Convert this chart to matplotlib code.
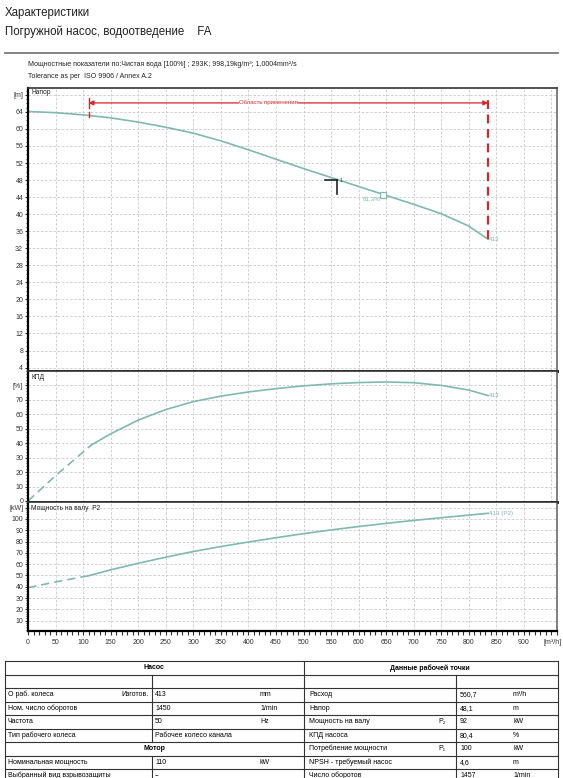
import matplotlib
matplotlib.use('Agg')
import matplotlib.pyplot as plt
from matplotlib.lines import Line2D
from matplotlib.ticker import MultipleLocator

plt.rcParams['font.family'] = ['Liberation Sans', 'DejaVu Sans']

# ---------------- data ----------------
q_head = [0, 50, 100, 150, 200, 250, 300, 350, 400, 450, 500, 550, 600, 650, 700, 750, 800, 835]
head = [64.1, 63.8, 63.3, 62.6, 61.6, 60.4, 59.0, 57.2, 55.1, 52.9, 50.7, 48.6, 46.5, 44.4, 42.3, 40.1, 37.2, 34.1]

q_eff_dash = [0, 50, 115]
eff_dash = [0, 17.5, 38.8]
q_eff = [115, 150, 200, 250, 300, 350, 400, 450, 500, 550, 600, 650, 700, 750, 800, 835]
eff = [38.8, 46.5, 56, 63.3, 68.8, 72.6, 75.5, 77.8, 79.7, 81.1, 82.0, 82.4, 81.9, 80.0, 76.8, 73]

q_pow_dash = [0, 50, 110]
pow_dash = [39.2, 44.3, 49.8]
q_pow = [110, 150, 200, 250, 300, 350, 400, 450, 500, 550, 600, 650, 700, 750, 800, 835]
pow_p2 = [49.8, 55, 60.8, 66.2, 71.2, 75.6, 79.6, 83.4, 87, 90.3, 93.3, 96.1, 98.7, 101.1, 103.4, 105]

x_ticks = list(range(0, 901, 50))
head_ticks = list(range(4, 65, 4))
eff_ticks = list(range(0, 71, 10))
pow_ticks = list(range(10, 101, 10))

range_q = [110, 835]
range_level = 66.1
op_q, op_h = 560.7, 48.1
bep_q, bep_h, bep_label = 645, 44.5, '81,3%'
curve_name = '413'

header_left = 'Насос'
header_motor = 'Мотор'
header_right = 'Данные рабочей точки'
left_rows = [
    ['О раб. колеса', 'Изготов.', '413', 'mm'],
    ['Ном. число оборотов', '', '1450', '1/min'],
    ['Частота', '', '50', 'Hz'],
    ['Тип рабочего колеса', '', 'Рабочее колесо канала', ''],
    None,
    ['Номинальная мощность', '', '110', 'kW'],
    ['Выбранный вид взрывозащиты', '', '--', ''],
]
right_rows = [
    ['Расход', '', '560,7', 'm³/h'],
    ['Напор', '', '48,1', 'm'],
    ['Мощность на валу', 'P₂', '92', 'kW'],
    ['КПД насоса', '', '80,4', '%'],
    ['Потребление мощности', 'P₁', '100', 'kW'],
    ['NPSH - требуемый насос', '', '4,6', 'm'],
    ['Число оборотов', '', '1457', '1/min'],
]

# ---------------- figure ----------------
W, H = 563, 778
fig = plt.figure(figsize=(W / 100, H / 100), dpi=100)


def fx(px):
    return px / W


def fy(py):
    return 1 - py / H


TEAL = '#7fb9b0'
RED = '#d8262c'
GRID = '#c9c9c9'
L, R = 28, 557


def add_ax(top, bot):
    return fig.add_axes([fx(L), fy(bot), (R - L) / W, (bot - top) / H])


ax1 = add_ax(88, 371)
ax2 = add_ax(371, 502)
ax3 = add_ax(502, 631)

for ax in (ax1, ax2, ax3):
    ax.set_xlim(0, 960)
    ax.xaxis.set_major_locator(MultipleLocator(50))
    ax.xaxis.set_minor_locator(MultipleLocator(10))
    ax.grid(True, which='major', color=GRID, ls=(0, (3, 2)), lw=0.6)
    ax.set_axisbelow(True)
    ax.spines['left'].set_color('black')
    ax.spines['left'].set_linewidth(1.6)
    ax.spines['right'].set_color('#6a6a6a')
    ax.spines['right'].set_linewidth(1.2)
    ax.spines['top'].set_color('#333333')
    ax.spines['top'].set_linewidth(1.2)
    ax.spines['bottom'].set_color('black')
    ax.spines['bottom'].set_linewidth(2.0)
    ax.tick_params(axis='y', which='major', labelsize=5, length=2.5, width=0.8, pad=1, colors='#333333')
    ax.tick_params(axis='y', which='minor', length=1.5, width=0.6, colors='#333333')

for ax in (ax1, ax2):
    ax.tick_params(axis='x', which='both', bottom=False, labelbottom=False)

# head
ax1.set_ylim(3.2, 69.6)
ax1.set_yticks(head_ticks + [68])
ax1.set_yticklabels([str(t) for t in head_ticks] + ['[m]'])
ax1.yaxis.set_minor_locator(MultipleLocator(1))
ax1.plot(q_head, head, color=TEAL, lw=1.2)
ax1.text(q_head[-1] + 2, head[-1], curve_name, color=TEAL, fontsize=4.5, va='center', ha='left')
ax1.plot([bep_q], [bep_h], marker='s', ms=4, mfc='white', mec=TEAL, mew=0.9)
ax1.text(bep_q - 5, bep_h - 0.8, bep_label, color=TEAL, fontsize=4.5, ha='right', va='center')
ax1.plot([op_q - 22, op_q], [op_h, op_h], color='#222222', lw=1.2)
ax1.plot([op_q, op_q], [op_h, op_h - 3.3], color='#222222', lw=1.2)
ax1.text(op_q + 4, op_h - 0.3, '1', fontsize=3.5, color='#222222', va='center')
# application range
ax1.annotate('', xy=(range_q[1], range_level), xytext=(range_q[0], range_level),
             arrowprops=dict(arrowstyle='<|-|>', color=RED, lw=0.9, mutation_scale=7,
                             shrinkA=0, shrinkB=0))
ax1.plot([range_q[0], range_q[0]], [65.0, 67.2], color=RED, lw=1.0)
ax1.plot([range_q[0], range_q[0]], [62.8, 64.0], color=RED, lw=1.0)
ax1.plot([range_q[1], range_q[1]], [head[-1], 68.0], color=RED, lw=1.6, ls=(0, (4, 2.5)))
ax1.text(sum(range_q) / 2 - 36, range_level, 'Область применения', color=RED, fontsize=4.3,
         ha='center', va='center', bbox=dict(fc='white', ec='none', pad=0.2))
fig.text(fx(31), fy(92), 'Напор', fontsize=4.8, va='center', color='#222222')

# efficiency
ax2.set_ylim(-0.7, 90)
ax2.set_yticks(eff_ticks + [80])
ax2.set_yticklabels([str(t) for t in eff_ticks] + ['[%]'])
ax2.yaxis.set_minor_locator(MultipleLocator(2))
ax2.plot(q_eff_dash, eff_dash, color=TEAL, lw=1.2, ls=(0, (5, 3)))
ax2.plot(q_eff, eff, color=TEAL, lw=1.2)
ax2.text(q_eff[-1] + 2, eff[-1], curve_name, color=TEAL, fontsize=4.5, va='center', ha='left')
fig.text(fx(31), fy(377), 'КПД', fontsize=4.8, va='center', color='#222222')

# power
ax3.set_ylim(0.9, 115)
ax3.set_yticks(pow_ticks + [110])
ax3.set_yticklabels([str(t) for t in pow_ticks] + ['[kW]'])
ax3.yaxis.set_minor_locator(MultipleLocator(2))
ax3.plot(q_pow_dash, pow_dash, color=TEAL, lw=1.2, ls=(0, (5, 3)))
ax3.plot(q_pow, pow_p2, color=TEAL, lw=1.2)
ax3.text(q_pow[-1] + 2, pow_p2[-1], curve_name + ' (P2)', color=TEAL, fontsize=4.5, va='center', ha='left')
fig.text(fx(31), fy(508), 'Мощность на валу  P2', fontsize=4.8, va='center', color='#222222')
ax3.spines['bottom'].set_linewidth(1.6)
ax3.set_xticks(x_ticks)
ax3.set_xticklabels([str(t) for t in x_ticks])
ax3.tick_params(axis='x', which='major', labelsize=5, length=3, width=0.8, pad=3, colors='#333333')
ax3.tick_params(axis='x', which='minor', length=3, width=0.8, colors='#333333')
fig.text(fx(562), fy(642), '[m³/h]', fontsize=5, ha='right', va='center', color='#333333')

# ---------------- header ----------------
fig.text(fx(5), fy(13), 'Характеристики', fontsize=8.3, va='center', color='#222222')
fig.text(fx(5), fy(32), 'Погружной насос, водоотведение    FA', fontsize=8.3, va='center', color='#222222')
fig.add_artist(Line2D([fx(5), fx(558)], [fy(53), fy(53)], color='#7a7a7a', lw=1.3))
fig.text(fx(28), fy(64), 'Мощностные показатели по:Чистая вода [100%] ; 293K; 998,19kg/m³; 1,0004mm²/s',
         fontsize=5, va='center', color='#222222')
fig.text(fx(28), fy(76), 'Tolerance as per  ISO 9906 / Annex A.2', fontsize=5, va='center', color='#222222')

# ---------------- table ----------------
ROW0, RH = 661, 13.5
TL, TM, TR = 5, 304, 558
LDIV, RDIV = 152, 455.5


def hline(y, x0=TL, x1=TR, lw=0.8):
    fig.add_artist(Line2D([fx(x0), fx(x1)], [fy(y), fy(y)], color='#333333', lw=lw))


def vline(x, y0, y1, lw=0.8):
    fig.add_artist(Line2D([fx(x), fx(x)], [fy(y0), fy(y1)], color='#333333', lw=lw))


n_rows = 2 + max(len(left_rows), len(right_rows))
for i in range(n_rows + 1):
    hline(ROW0 + i * RH)
bottom = ROW0 + n_rows * RH
vline(TL, ROW0, bottom)
vline(TM, ROW0, bottom)
vline(TR, ROW0, bottom)
ts = 5.0


def yc(i):
    return ROW0 + (i + 0.5) * RH


fig.text(fx(154), fy(yc(0)), header_left, fontsize=ts, fontweight='bold', ha='center', va='center')
fig.text(fx(430), fy(yc(0)), header_right, fontsize=ts, fontweight='bold', ha='center', va='center')
vline(LDIV, ROW0 + RH, ROW0 + 2 * RH)
vline(RDIV, ROW0 + RH, ROW0 + 2 * RH)
for k, row in enumerate(left_rows):
    i = k + 2
    if row is None:
        fig.text(fx(154), fy(yc(i)), header_motor, fontsize=ts, fontweight='bold', ha='center', va='center')
        continue
    vline(LDIV, ROW0 + i * RH, ROW0 + (i + 1) * RH)
    fig.text(fx(8), fy(yc(i)), row[0], fontsize=ts, va='center')
    if row[1]:
        fig.text(fx(149), fy(yc(i)), row[1], fontsize=ts, va='center', ha='right')
    fig.text(fx(155), fy(yc(i)), row[2], fontsize=ts, va='center')
    if row[3]:
        fig.text(fx(260), fy(yc(i)), row[3], fontsize=ts, va='center')
for k, row in enumerate(right_rows):
    i = k + 2
    vline(RDIV, ROW0 + i * RH, ROW0 + (i + 1) * RH)
    fig.text(fx(309), fy(yc(i)), row[0], fontsize=ts, va='center')
    if row[1]:
        fig.text(fx(442), fy(yc(i)), row[1], fontsize=ts, va='center', ha='center')
    fig.text(fx(460), fy(yc(i)), row[2], fontsize=ts, va='center')
    if row[3]:
        fig.text(fx(513), fy(yc(i)), row[3], fontsize=ts, va='center')

fig.savefig('out.png', dpi=100)
